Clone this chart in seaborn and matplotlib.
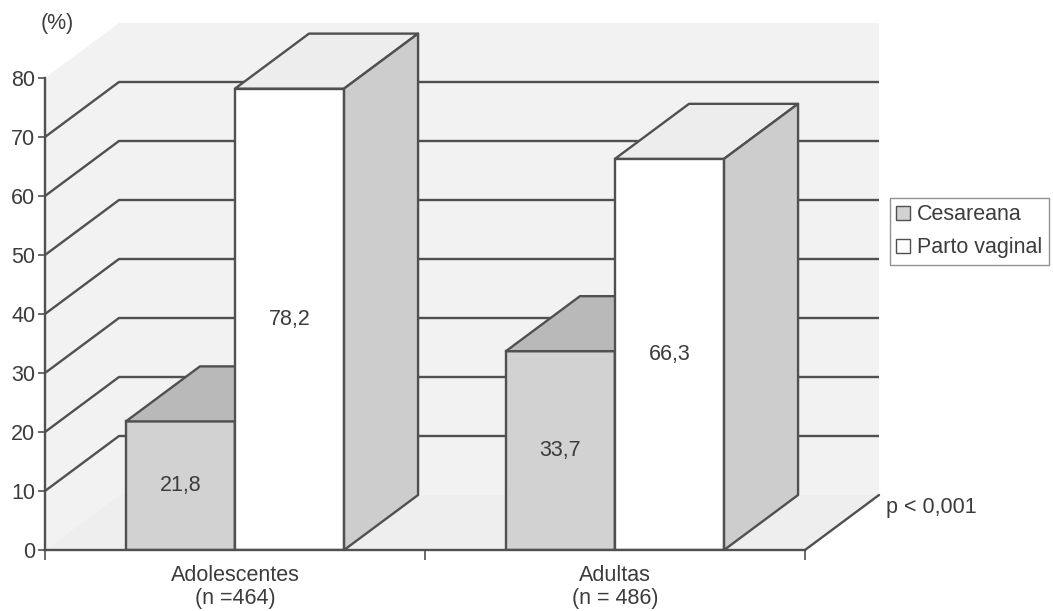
import matplotlib
matplotlib.use("Agg")
import matplotlib.pyplot as plt
from matplotlib.patches import Polygon, Patch
import pandas as pd
import seaborn as sns

# ---- data ----
grupos = ["Adolescentes\n(n =464)", "Adultas\n(n = 486)"]
tipos = ["Cesareana", "Parto vaginal"]
cesareana = [21.8, 33.7]
parto_vaginal = [78.2, 66.3]
y_ticks = [0, 10, 20, 30, 40, 50, 60, 70, 80]
valor_p = "p < 0,001"

df = pd.DataFrame({
    "grupo": grupos * 2,
    "tipo": [tipos[0]] * len(grupos) + [tipos[1]] * len(grupos),
    "pct": cesareana + parto_vaginal,
})

# ---- style ----
sns.set_style("ticks")
plt.rcParams["font.family"] = ["Liberation Sans", "DejaVu Sans"]
FS = 15.5
TXT = "#3c3c3c"
LINE = "#505050"
LW = 1.7
WALL = "#f2f2f2"
FLOOR = "#eeeeee"
front_col = {"Cesareana": "#d2d2d2", "Parto vaginal": "#ffffff"}
top_col = {"Cesareana": "#b9b9b9", "Parto vaginal": "#ededed"}
side_col = {"Cesareana": "#cacaca", "Parto vaginal": "#cdcdcd"}

W, H = 1053, 611
fig = plt.figure(figsize=(W / 100, H / 100), dpi=100)
fig.patch.set_facecolor("white")

# front plane of the 3-D box (pixel frame)
px0, px1, py0, py1 = 45, 805, 550, 78
ax = fig.add_axes([px0 / W, 1 - py0 / H, (px1 - px0) / W, (py0 - py1) / H])
ax.patch.set_visible(False)

XMIN, XMAX, YMIN, YMAX = -0.5, 1.5, 0, 80
# depth offset of the box, expressed in data units
DX = 74 * (XMAX - XMIN) / (px1 - px0)
DY = 55 * (YMAX - YMIN) / (py0 - py1)

def poly(pts, fc, z, ec="none", lw=0):
    p = Polygon(pts, closed=True, facecolor=fc, edgecolor=ec, linewidth=lw,
                zorder=z, clip_on=False, joinstyle="round")
    ax.add_patch(p)

# walls and floor
poly([(XMIN + DX, DY), (XMAX + DX, DY), (XMAX + DX, YMAX + DY), (XMIN + DX, YMAX + DY)], WALL, 0)
poly([(XMIN, 0), (XMIN + DX, DY), (XMIN + DX, YMAX + DY), (XMIN, YMAX)], WALL, 0)
poly([(XMIN, 0), (XMAX, 0), (XMAX + DX, DY), (XMIN + DX, DY)], FLOOR, 0)

# gridlines running along the left wall and the back wall
for v in y_ticks[1:-1]:
    ax.plot([XMIN, XMIN + DX, XMAX + DX], [v, v + DY, v + DY], color=LINE,
            lw=LW, zorder=1, clip_on=False, solid_capstyle="butt")
ax.plot([XMAX, XMAX + DX], [0, DY], color=LINE, lw=LW, zorder=1, clip_on=False)

# front faces of the bars
sns.barplot(data=df, x="grupo", y="pct", hue="tipo", order=grupos, hue_order=tipos,
            palette=front_col, width=0.574, edgecolor=LINE, linewidth=LW,
            ax=ax, legend=False, err_kws={"linewidth": 0})

# extrude each bar: top face and right side face
for i, (tipo, cont) in enumerate(zip(tipos, ax.containers)):
    z = 3 + 2 * i
    for bar in cont:
        bar.set_zorder(z)
        x, w, h = bar.get_x(), bar.get_width(), bar.get_height()
        poly([(x, h), (x + w, h), (x + w + DX, h + DY), (x + DX, h + DY)],
             top_col[tipo], z, LINE, LW)
        poly([(x + w, 0), (x + w + DX, DY), (x + w + DX, h + DY), (x + w, h)],
             side_col[tipo], z, LINE, LW)
        ax.text(x + w / 2, h / 2, f"{h:.1f}".replace(".", ","), ha="center",
                va="center", fontsize=FS, color=TXT, zorder=z + 1)

ax.set_xlim(XMIN, XMAX)
ax.set_ylim(YMIN, YMAX)
ax.set_xlabel("")
ax.set_ylabel("")

for s in ("top", "right"):
    ax.spines[s].set_visible(False)
for s in ("left", "bottom"):
    ax.spines[s].set_color(LINE)
    ax.spines[s].set_linewidth(LW)
    ax.spines[s].set_zorder(10)

ax.set_yticks(y_ticks)
ax.tick_params(axis="y", length=5, width=1.2, color=LINE, labelsize=FS,
               labelcolor=TXT, pad=2, left=True)
ax.set_xticks(range(len(grupos)), labels=grupos)
ax.tick_params(axis="x", which="major", length=0, labelsize=FS, labelcolor=TXT, pad=11)
ax.set_xticks([XMIN, 0.5, XMAX], minor=True)
ax.tick_params(axis="x", which="minor", length=7, width=1.2, color=LINE, bottom=True)
for lab in ax.get_xticklabels():
    lab.set_linespacing(1.1)

# legend
handles = [Patch(facecolor=front_col[t], edgecolor=LINE, linewidth=1.0) for t in tipos]
leg = ax.legend(handles, tipos, loc="upper left", bbox_to_anchor=(890 / W, 1 - 198 / H),
                bbox_transform=fig.transFigure, frameon=True, fancybox=False,
                edgecolor="#777777", fontsize=FS, handlelength=0.65, handleheight=0.65,
                handletextpad=0.3, borderpad=0.3, labelspacing=0.55, borderaxespad=0)
leg.get_frame().set_linewidth(1.0)
for t in leg.get_texts():
    t.set_color(TXT)

fig.text(57 / W, 1 - 24 / H, "(%)", ha="center", va="center", fontsize=FS, color=TXT)
fig.text(886 / W, 1 - 508 / H, valor_p, ha="left", va="center", fontsize=FS, color=TXT)

fig.savefig("out.png", dpi=100, facecolor="white")
